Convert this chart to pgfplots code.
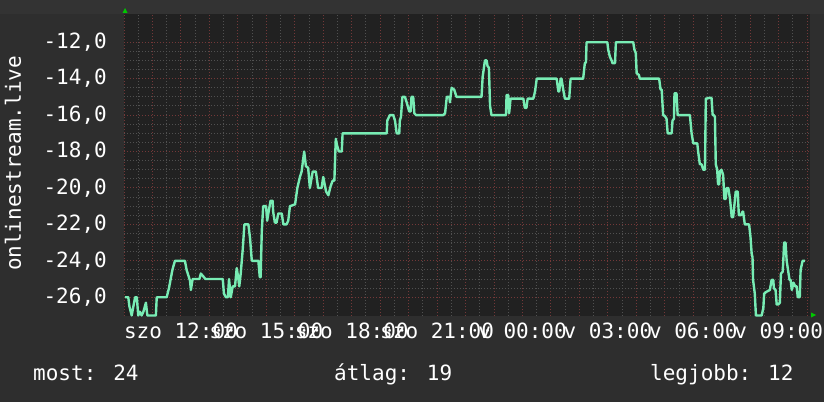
\documentclass[border=0pt]{standalone}
\usepackage{pgfplots}
\pgfplotsset{compat=1.18}
\usepackage{fontspec}
\newfontfamily\rrd{DejaVu Sans Mono}
\definecolor{bgout}{HTML}{2E2E2E}
\definecolor{bgtop}{HTML}{333333}
\definecolor{canvas}{HTML}{212121}
\definecolor{gridred}{HTML}{733838}
\definecolor{gridgray}{HTML}{505050}
\definecolor{linec}{RGB}{120,236,180}
\definecolor{arrowgreen}{HTML}{00C800}
\newcommand\rrdfont{\rrd\fontsize{21}{25}\selectfont}
\begin{document}
\begin{tikzpicture}[x=1pt,y=1pt]
\path[use as bounding box] (0,0) rectangle (824,402);
\fill[bgout] (0,0) rectangle (824,402);
\fill[bgtop] (0,388) rectangle (824,402);
\begin{axis}[
  at={(124pt,86pt)}, anchor=south west, scale only axis,
  width=686pt, height=302pt,
  xmin=10, xmax=34.1, ymin=-27.03, ymax=-10.45,
  axis background/.style={fill=canvas},
  axis line style={draw=none},
  xtick={10,...,34},
  xticklabels={{},{},szo 12:00,{},{},szo 15:00,{},{},szo 18:00,{},{},szo 21:00,{},{},v 00:00,{},{},v 03:00,{},{},v 06:00,{},{},v 09:00,{}},
  ytick={-26,-24,-22,-20,-18,-16,-14,-12},
  yticklabels={{-26,0},{-24,0},{-22,0},{-20,0},{-18,0},{-16,0},{-14,0},{-12,0}},
  minor x tick num=1, minor y tick num=3,
  grid=both,
  major grid style={color=gridred, dash pattern=on 1pt off 2pt, line width=1pt},
  minor grid style={color=gridgray, dash pattern=on 1pt off 2pt, line width=1pt},
  major tick length=0pt, minor tick length=0pt,
  xticklabel style={anchor=north, inner sep=0pt, yshift=-7pt, font=\rrdfont, text=white},
  yticklabel style={anchor=east, inner sep=0pt, xshift=-17pt, font=\rrdfont, text=white},
]
\addplot[color=linec, line width=2.4pt, line join=round] coordinates {
(10.03,-26) (10.15,-26) (10.19,-26.5) (10.27,-27) (10.39,-26) (10.45,-26) (10.50,-27) (10.56,-26.8) (10.62,-27) (10.68,-26.8) (10.77,-26.3) (10.82,-27) (11.12,-27) (11.15,-26) (11.50,-26) (11.58,-25.5) (11.64,-25) (11.70,-24.5) (11.79,-24) (12.14,-24) (12.20,-24.5) (12.32,-25.1) (12.35,-25.6) (12.41,-25) (12.65,-25) (12.70,-24.7) (12.81,-24.9) (12.86,-25) (13.47,-25) (13.51,-25.8) (13.58,-26) (13.65,-26) (13.69,-25) (13.75,-26) (13.82,-25.4) (13.90,-25.4) (13.96,-24.4) (14.01,-24.9) (14.05,-25.4) (14.10,-24.7) (14.17,-23.4) (14.23,-22) (14.37,-22) (14.43,-22.8) (14.49,-24)
(14.72,-24) (14.77,-24.9) (14.80,-24.9) (14.84,-22.4) (14.89,-21) (14.99,-21) (15.03,-21.8) (15.07,-21.4) (15.15,-20.7) (15.22,-20.7) (15.24,-21.3) (15.30,-21.9) (15.36,-21.9) (15.42,-21.4) (15.54,-21.4) (15.60,-22) (15.71,-22) (15.77,-21.8) (15.83,-21) (16.01,-20.9) (16.09,-20) (16.18,-19.4) (16.24,-19.1) (16.33,-18) (16.39,-18.8) (16.47,-18.9) (16.53,-20) (16.63,-19.1) (16.74,-19.1) (16.82,-20) (16.94,-20) (17.00,-19.4) (17.10,-20.2) (17.18,-20.4) (17.26,-19.9) (17.33,-19.6) (17.39,-19.6) (17.44,-17.3) (17.49,-17.7) (17.55,-18) (17.65,-18) (17.68,-17)
(19.23,-17) (19.25,-16.3) (19.34,-16) (19.46,-16) (19.52,-16.3) (19.58,-17) (19.67,-17) (19.69,-16.3) (19.73,-16.1) (19.78,-15) (19.87,-15) (19.93,-15.3) (20.02,-15.8) (20.07,-15.8) (20.10,-15) (20.16,-15) (20.20,-15.9) (20.26,-16) (21.22,-16) (21.28,-15.9) (21.34,-15) (21.43,-15) (21.45,-15.3) (21.51,-14.5) (21.60,-14.6) (21.68,-15) (22.56,-15) (22.60,-13.9) (22.68,-13) (22.74,-13) (22.77,-13.3) (22.82,-13.4) (22.86,-15.5) (22.91,-16) (23.42,-16)
(23.44,-14.9) (23.50,-14.9) (23.53,-15.9) (23.58,-15.1) (24.03,-15.1) (24.08,-15.6) (24.14,-15.6) (24.18,-15.1) (24.38,-15.1) (24.44,-14.7) (24.50,-14) (25.20,-14) (25.26,-14.7) (25.29,-14.7) (25.34,-14) (25.37,-14) (25.43,-14.6) (25.49,-15.1) (25.64,-15.1) (25.69,-14) (26.13,-14) (26.19,-13.15) (26.23,-13.1) (26.25,-12) (26.98,-12)
(27.01,-12.4) (27.07,-12.8) (27.13,-13) (27.16,-13.15) (27.25,-13.15) (27.28,-12) (27.89,-12) (27.93,-12.4) (27.98,-12.6) (28.01,-13.7) (28.09,-13.8) (28.12,-14) (28.80,-14) (28.85,-14.6) (28.89,-14.6) (28.94,-16) (29.00,-16.05) (29.06,-16.2) (29.10,-17) (29.24,-17) (29.27,-16.3) (29.32,-16.2) (29.34,-14.8) (29.41,-14.8) (29.45,-16) (29.88,-16) (29.94,-17) (30.00,-17.55) (30.14,-17.55) (30.17,-18) (30.23,-18.7) (30.29,-18.7) (30.35,-19) (30.41,-19) (30.44,-15.1) (30.58,-15.05) (30.64,-15.05) (30.68,-16) (30.72,-16) (30.76,-16.1) (30.79,-18.7) (30.84,-19) (30.87,-19.8) (30.91,-19.8) (30.93,-19.1) (30.99,-19) (31.05,-19.3) (31.09,-20.6) (31.14,-20.6) (31.17,-20) (31.23,-20) (31.29,-20.6) (31.35,-21.6) (31.40,-21.6) (31.44,-21) (31.49,-20.2) (31.56,-20.2) (31.60,-21.5) (31.67,-21.5) (31.73,-21.3) (31.75,-21.3) (31.81,-22) (31.96,-22) (32.01,-22.7) (32.05,-23.6) (32.08,-23.8) (32.10,-25.05) (32.16,-25.8) (32.20,-27) (32.40,-27) (32.46,-26.6) (32.49,-25.8) (32.57,-25.7) (32.69,-25.6) (32.75,-25.05) (32.81,-25.05) (32.83,-25.5) (32.89,-25.6) (32.93,-26.4) (32.98,-26.4) (33.04,-26.3) (33.08,-24.7) (33.14,-24.6) (33.16,-24.05) (33.19,-23) (33.24,-23) (33.28,-24) (33.38,-25.05) (33.42,-25.05) (33.46,-25.6) (33.52,-25.2) (33.58,-25.4) (33.63,-25.4) (33.67,-26) (33.74,-26) (33.77,-24.5) (33.84,-24) (33.92,-24)
};
\end{axis}
\fill[arrowgreen] (122.5,389) -- (127.5,389) -- (125,394) -- cycle;
\fill[arrowgreen] (811,89.5) -- (811,84.5) -- (816,87) -- cycle;
\node[rotate=90, font=\rrdfont, text=white, inner sep=0pt] at (13,238.5) {onlinestream.live};
\node[anchor=base west, font=\rrdfont, text=white, inner sep=0pt] at (33,22) {most: 24};
\node[anchor=base west, font=\rrdfont, text=white, inner sep=0pt] at (334,22) {átlag: 19};
\node[anchor=base west, font=\rrdfont, text=white, inner sep=0pt] at (650,22) {legjobb: 12};
\end{tikzpicture}
\end{document}
